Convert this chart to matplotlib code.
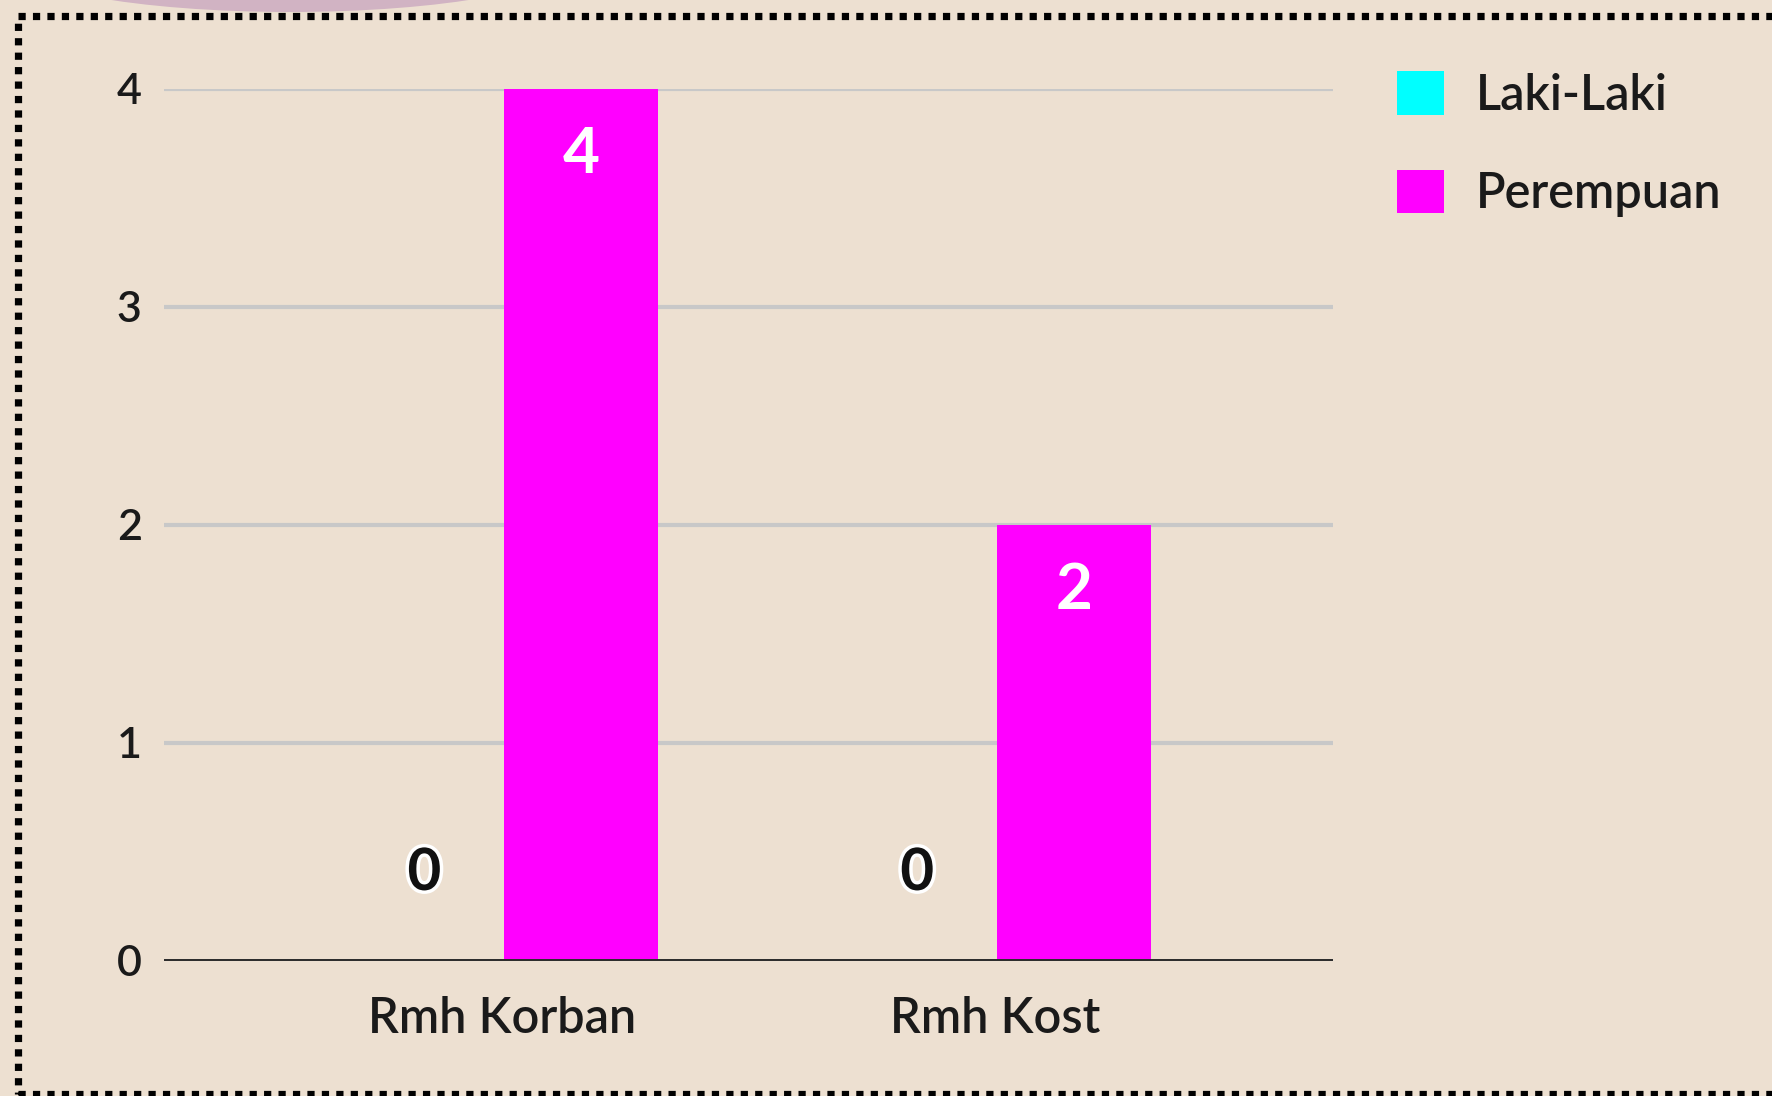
import matplotlib
matplotlib.use("Agg")
import matplotlib.pyplot as plt
import matplotlib.patheffects as pe
from matplotlib.patches import Rectangle, Ellipse
import numpy as np

# dati
categories = ["Rmh Korban", "Rmh Kost"]
series_names = ["Laki-Laki", "Perempuan"]
laki_laki = [0, 0]
perempuan = [4, 2]
y_ticks = [0, 1, 2, 3, 4]

BG = "#ede0d1"
CYAN = "#00ffff"
MAGENTA = "#ff00ff"
TXT_W = 600

plt.rcParams["font.family"] = ["Lato", "DejaVu Sans"]

fig = plt.figure(figsize=(17.72, 10.96), dpi=100, facecolor=BG)
ax = fig.add_axes([164 / 1772, 1 - 961 / 1096, (1333 - 164) / 1772, (961 - 89) / 1096])
ax.set_facecolor(BG)

x = np.arange(len(categories))
w = 0.312

bars1 = ax.bar(x - w / 2 + 0.004, laki_laki, width=w, color=CYAN, label=series_names[0], zorder=3)
bars2 = ax.bar(x + w / 2 + 0.004, perempuan, width=w, color=MAGENTA, label=series_names[1], zorder=3)

ax.set_xlim(-0.686, 1.686)
ax.set_ylim(0, 4)
ax.set_yticks(y_ticks)
ax.set_xticks(x)
ax.set_xticklabels(categories, fontsize=35, color="#1a1a1a", fontweight=TXT_W)
for t in ax.get_yticklabels():
    t.set_fontweight(TXT_W)
ax.tick_params(axis="x", length=0, pad=25)
ax.tick_params(axis="y", length=0, pad=16, labelsize=31, labelcolor="#1a1a1a")

# griglia
for t in y_ticks[1:]:
    ax.axhline(t, color="#c8c8c8", linewidth=3.0, zorder=1)
ax.axhline(0, color="#2e2e2e", linewidth=3.6, zorder=4)
for s in ax.spines.values():
    s.set_visible(False)

# etichette valori
for b, v in zip(bars2, perempuan):
    ax.annotate(str(v), (b.get_x() + b.get_width() / 2, v), xytext=(0, -47),
                textcoords="offset points", ha="center", va="center",
                fontsize=46, fontweight="bold", color="white", zorder=5)
for b, v in zip(bars1, laki_laki):
    ax.annotate(str(v), (b.get_x() + b.get_width() / 2, v), xytext=(-2, 63),
                textcoords="offset points", ha="center", va="center",
                fontsize=42, fontweight="bold", color="#111111", zorder=5,
                path_effects=[pe.withStroke(linewidth=5, foreground="white")])

# legenda
leg = fig.legend(loc="upper left", bbox_to_anchor=(1378 / 1772, 1 - 52 / 1096),
                 frameon=False, fontsize=35, handlelength=0.95, handleheight=1.0,
                 handletextpad=0.66, labelspacing=1.05, borderaxespad=0,
                 prop={"size": 35, "weight": TXT_W})
for t in leg.get_texts():
    t.set_color("#1a1a1a")

# bordo tratteggiato e macchia in alto
fig.patches.append(Ellipse((290 / 1772, 1 + 40 / 1096), 560 / 1772, 104 / 1096,
                           transform=fig.transFigure, facecolor="#d1b3c3",
                           edgecolor="none", zorder=0))
fig.patches.append(Rectangle((18 / 1772, 1 - 1094 / 1096), 1.2, (1094 - 16) / 1096,
                             transform=fig.transFigure, fill=False,
                             edgecolor="black", linewidth=5.2,
                             linestyle=(0, (1, 1)), zorder=0))

fig.savefig("out.png", dpi=100, facecolor=BG)
